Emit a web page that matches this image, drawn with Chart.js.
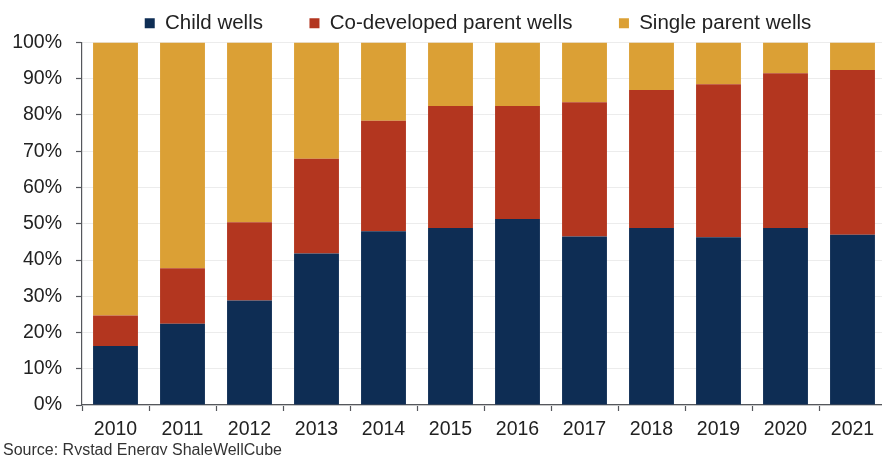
<!DOCTYPE html>
<html>
<head>
<meta charset="utf-8">
<script src="https://cdn.jsdelivr.net/npm/chart.js@4/dist/chart.umd.min.js"></script>
<style>
  html, body { margin: 0; padding: 0; background: #fff; overflow: hidden; }
  #wrap { width: 886px; height: 455px; }
</style>
</head>
<body>
<div id="wrap"><canvas id="myChart"></canvas></div>
<script>
const years = ['2010', '2011', '2012', '2013', '2014', '2015', '2016', '2017', '2018', '2019', '2020', '2021'];

// share of wells, percent
const childWells      = [16.3, 22.4, 28.8, 41.8, 47.9, 48.8, 51.3, 46.5, 48.8, 46.3, 48.8, 47.0];
const coParentWells   = [ 8.4, 15.3, 21.6, 26.1, 30.5, 33.7, 31.2, 37.0, 38.1, 42.2, 42.7, 45.4];
const singleParent    = [75.3, 62.3, 49.6, 32.1, 21.6, 17.5, 17.5, 16.5, 13.1, 11.5,  8.5,  7.6];

const yTicks = [0, 10, 20, 30, 40, 50, 60, 70, 80, 90, 100];

const font = 'Liberation Sans, Arial, sans-serif';
const axisColor = '#55575c';

const data = {
  labels: years,
  datasets: [
    { label: 'Child wells', data: childWells, backgroundColor: '#0e2d54' },
    { label: 'Co-developed parent wells', data: coParentWells, backgroundColor: '#b3361f' },
    { label: 'Single parent wells', data: singleParent, backgroundColor: '#dba035' }
  ]
};

// nudge the legend row a little to the left of the plot centre
const legendShift = {
  id: 'legendShift',
  afterLayout(chart) {
    chart.legend.left -= 6;
    chart.legend.right -= 6;
  }
};

const config = {
  type: 'bar',
  data: data,
  plugins: [legendShift],
  options: {
    responsive: true,
    maintainAspectRatio: false,
    animation: false,
    datasets: {
      bar: { barPercentage: 0.67, categoryPercentage: 1, borderWidth: 0 }
    },
    layout: { padding: { top: -33.5, left: 3, right: 0, bottom: -5.6 } },
    scales: {
      x: {
        stacked: true,
        afterFit: (scale) => { scale.height = 36.4; },
        border: { color: axisColor, width: 1.2 },
        grid: { drawOnChartArea: false, tickLength: 6, tickColor: axisColor, tickWidth: 1.2 },
        ticks: { color: '#222', padding: 7, font: { family: font, size: 19.5 } }
      },
      y: {
        stacked: true,
        min: 0,
        max: 100,
        afterFit: (scale) => { scale.width = 79; },
        afterBuildTicks: (scale) => { scale.ticks = yTicks.map(v => ({ value: v })); },
        border: { color: axisColor, width: 1.2 },
        grid: { color: '#ececec', lineWidth: 1, tickLength: 6, tickColor: axisColor, tickWidth: 1.2 },
        ticks: {
          color: '#222',
          padding: 14,
          font: { family: font, size: 19.5 },
          callback: (v) => v + '%'
        }
      }
    },
    plugins: {
      legend: {
        position: 'top',
        fullSize: false,
        maxHeight: 76,
        labels: {
          boxWidth: 10,
          boxHeight: 10,
          padding: 46.5,
          color: '#222',
          font: { family: font, size: 20.5 }
        }
      },
      subtitle: {
        display: true,
        position: 'bottom',
        align: 'start',
        text: 'Source: Rystad Energy ShaleWellCube',
        color: '#333',
        padding: 0,
        font: { family: font, size: 16, weight: 'normal' }
      },
      tooltip: { enabled: false }
    }
  }
};

const myChart = new Chart(document.getElementById('myChart'), config);
</script>
</body>
</html>
